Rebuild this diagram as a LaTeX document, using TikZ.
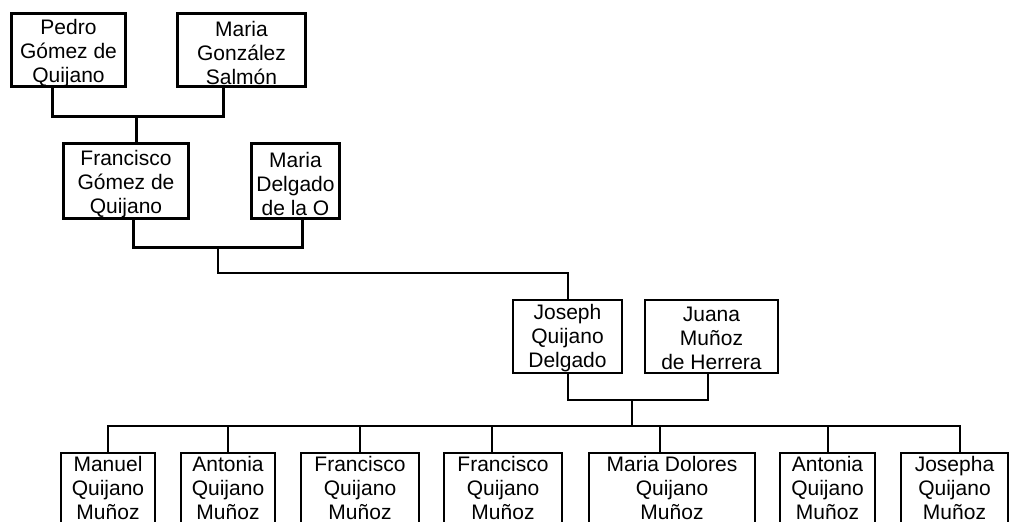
\documentclass[tikz,border=0pt]{standalone}
\usepackage{fontspec}
\setmainfont{Liberation Sans}
\newcommand\myTopStrut{\rule{0pt}{21pt}}
\newcommand\myMidStrut{\rule{0pt}{18pt}}
\newcommand\myLowStrut{\rule[-4pt]{0pt}{4pt}}
\begin{document}
\begin{tikzpicture}[x=1pt,y=-1pt,
  person/.style={draw, rectangle, inner sep=0pt, align=center,
    font=\fontsize{21}{24}\selectfont},
  thick box/.style={person, line width=3pt, minimum height=73pt},
  thin box/.style={person, line width=2pt, minimum height=73pt},
  heavy/.style={line width=3pt},
  light/.style={line width=2pt}]
\clip (0,0) rectangle (1010,522);
\fill[white] (0,0) rectangle (1010,522);
% generation 1
\node[thick box, minimum width=114pt] (pedro) at (68.5,50) {\myTopStrut Pedro\\Gómez de\\Quijano};
\node[thick box, minimum width=128pt] (gonzalez) at (241.5,50) {\myTopStrut Maria\\González\\Salmón};
% generation 2
\node[thick box, minimum width=125pt, minimum height=75pt] (francisco) at (126,181) {\myTopStrut Francisco\\Gómez de\\Quijano};
\node[thick box, minimum width=88pt, minimum height=75pt] (delgado) at (295.5,181) {\myTopStrut Maria\\Delgado\\de la O};
% generation 3
\node[thin box, minimum width=109pt] (joseph) at (567.5,336.5) {\myMidStrut Joseph\\Quijano\\Delgado};
\node[thin box, minimum width=133pt] (juana) at (711.5,336.5) {\myMidStrut Juana\\Muñoz\\de Herrera};
% generation 4
\node[thin box, minimum width=94pt] (manuel) at (108,489.5) {Manuel\\Quijano\\Muñoz\myLowStrut};
\node[thin box, minimum width=94pt] (antonia) at (228,489.5) {Antonia\\Quijano\\Muñoz\myLowStrut};
\node[thin box, minimum width=118pt] (franciscoq) at (360,489.5) {Francisco\\Quijano\\Muñoz\myLowStrut};
\node[thin box, minimum width=118pt] (franciscor) at (503,489.5) {Francisco\\Quijano\\Muñoz\myLowStrut};
\node[thin box, minimum width=166pt] (dolores) at (672,489.5) {Maria Dolores\\Quijano\\Muñoz\myLowStrut};
\node[thin box, minimum width=95pt] (antoniab) at (827.5,489.5) {Antonia\\Quijano\\Muñoz\myLowStrut};
\node[thin box, minimum width=107pt] (josepha) at (954.5,489.5) {Josepha\\Quijano\\Muñoz\myLowStrut};
% junctions
\coordinate (j1) at (136.5,116.5);
\coordinate (j2) at (217.5,247);
\coordinate (j3) at (631.5,400);
\coordinate (j4) at (631.5,426);
% connectors gen 1 -> 2
\draw[heavy] ([xshift=-16pt]pedro.south) |- (j1) -| ([xshift=-18pt]gonzalez.south);
\draw[heavy] (j1) -- (j1 |- francisco.north);
% gen 2 -> 3
\draw[heavy] ([xshift=7.5pt]francisco.south) |- (j2) -| ([xshift=6.5pt]delgado.south);
\draw[light] (j2) |- (joseph.north |- 0,273) -- (joseph.north);
% gen 3 -> 4
\draw[light] (joseph.south) |- (j3) -| ([xshift=-3.5pt]juana.south);
\draw[light] (j3) -- (j4);
\draw[light] (manuel.north) |- (j4) -| (josepha.north -| 960,0);
\draw[light] (antonia.north) -- (antonia.north |- j4);
\draw[light] (franciscoq.north) -- (franciscoq.north |- j4);
\draw[light] ([xshift=-11pt]franciscor.north) -- ([xshift=-11pt]franciscor.north |- j4);
\draw[light] ([xshift=-12pt]dolores.north) -- ([xshift=-12pt]dolores.north |- j4);
\draw[light] (antoniab.north) -- (antoniab.north |- j4);
\draw[light] ([xshift=5.5pt]josepha.north) -- ([xshift=5.5pt]josepha.north |- j4);
\end{tikzpicture}
\end{document}
